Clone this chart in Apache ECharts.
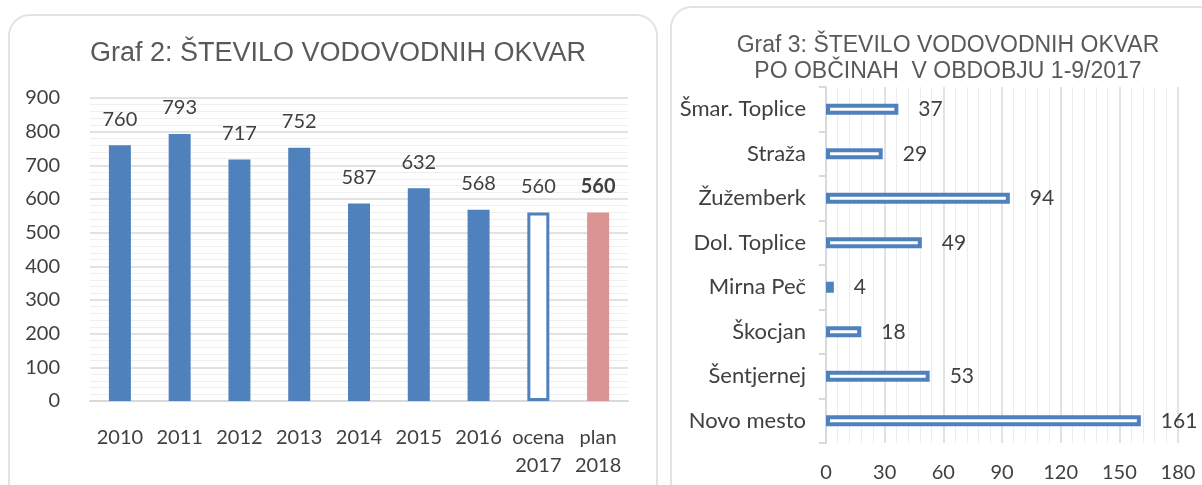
<!DOCTYPE html>
<html>
<head>
<meta charset="utf-8">
<script src="https://cdn.jsdelivr.net/npm/echarts@6/dist/echarts.min.js"></script>
<style>
  html, body { margin: 0; padding: 0; background: #fff; overflow: hidden; }
  .panel {
    position: absolute;
    box-sizing: border-box;
    border: 2px solid #e3e3e3;
    border-radius: 22px;
    background: #fff;
  }
  .p1 { left: 8px; top: 14px; width: 650px; height: 500px; }
  .p2 { left: 670px; top: 6px; width: 560px; height: 500px; }
  #chart { position: absolute; left: 0; top: 0; width: 1202px; height: 485px; }
</style>
</head>
<body>
<div class="panel p1"></div>
<div class="panel p2"></div>
<div id="chart"></div>
<script>
// Graf 2 - okvare po letih
const years = ['2010', '2011', '2012', '2013', '2014', '2015', '2016', 'ocena\n2017', 'plan\n2018']
const faults = [760, 793, 717, 752, 587, 632, 568, 560, 560]

// Graf 3 - okvare po obcinah 1-9/2017
const municipalities = ['Šmar. Toplice', 'Straža', 'Žužemberk', 'Dol. Toplice', 'Mirna Peč', 'Škocjan', 'Šentjernej', 'Novo mesto']
const counts = [37, 29, 94, 49, 4, 18, 53, 161]

const blue = '#4F81BD'
const txt = '#404040'
const font = 'Lato'

const chart = echarts.init(document.getElementById('chart'))

const barData = faults.map((v, i) => {
  if (i === 7) {
    return { value: v, itemStyle: { color: '#fff', borderColor: blue, borderWidth: 3 } }
  }
  if (i === 8) {
    return { value: v, itemStyle: { color: '#D99594' }, label: { fontWeight: 'bold' } }
  }
  return v
})

const option = {
  backgroundColor: 'transparent',
  animation: false,
  title: [
    {
      text: 'Graf 2: ŠTEVILO VODOVODNIH OKVAR',
      left: 333,
      top: 35,
      textAlign: 'center',
      textStyle: { fontFamily: 'Liberation Sans', fontSize: 27, fontWeight: 'normal', color: '#595959' }
    },
    {
      text: 'Graf 3: ŠTEVILO VODOVODNIH OKVAR\nPO OBČINAH  V OBDOBJU 1-9/2017',
      left: 943,
      top: 28,
      textAlign: 'center',
      textStyle: { fontFamily: 'Liberation Sans', fontSize: 23, lineHeight: 26, fontWeight: 'normal', color: '#595959' }
    }
  ],
  grid: [
    { left: 90, top: 98, width: 538, height: 303 },
    { left: 826, top: 87, width: 352, height: 356 }
  ],
  xAxis: [
    {
      gridIndex: 0,
      type: 'category',
      data: years,
      axisLine: { show: true, lineStyle: { color: '#d9d9d9', width: 2 } },
      axisTick: { show: false },
      axisLabel: { interval: 0, color: txt, fontFamily: font, fontSize: 20, lineHeight: 28, margin: 23 }
    },
    {
      gridIndex: 1,
      type: 'value',
      min: 0,
      max: 180,
      interval: 30,
      axisLine: { show: false },
      axisTick: { show: false },
      axisLabel: { color: txt, fontFamily: font, fontSize: 20, margin: 20 },
      splitLine: { show: true, lineStyle: { color: '#d9d9d9', width: 1.5 } },
      minorTick: { show: false, splitNumber: 5 },
      minorSplitLine: { show: true, lineStyle: { color: '#ececec' } }
    }
  ],
  yAxis: [
    {
      gridIndex: 0,
      type: 'value',
      min: 0,
      max: 900,
      interval: 100,
      axisLine: { show: false },
      axisTick: { show: false },
      axisLabel: { color: txt, fontFamily: font, fontSize: 20, margin: 30 },
      splitLine: { show: true, lineStyle: { color: '#d9d9d9', width: 1.5 } },
      minorTick: { show: false, splitNumber: 5 },
      minorSplitLine: { show: true, lineStyle: { color: '#efefef' } }
    },
    {
      gridIndex: 1,
      type: 'category',
      data: municipalities,
      inverse: true,
      axisLine: { show: true, lineStyle: { color: '#d9d9d9', width: 2 } },
      axisTick: { show: true, length: 7, lineStyle: { color: '#d9d9d9', width: 2 } },
      axisLabel: { color: txt, fontFamily: font, fontSize: 22, margin: 20 }
    }
  ],
  series: [
    {
      type: 'bar',
      xAxisIndex: 0,
      yAxisIndex: 0,
      barWidth: 22,
      itemStyle: { color: blue },
      label: { show: true, position: 'top', distance: 16, color: txt, fontFamily: font, fontSize: 20 },
      data: barData
    },
    {
      type: 'bar',
      xAxisIndex: 1,
      yAxisIndex: 1,
      barWidth: 11,
      itemStyle: { color: '#fff', borderColor: blue, borderWidth: 4 },
      label: { show: true, position: 'right', distance: 20, color: txt, fontFamily: font, fontSize: 21 },
      data: counts
    }
  ]
}

chart.setOption(option)
</script>
</body>
</html>
